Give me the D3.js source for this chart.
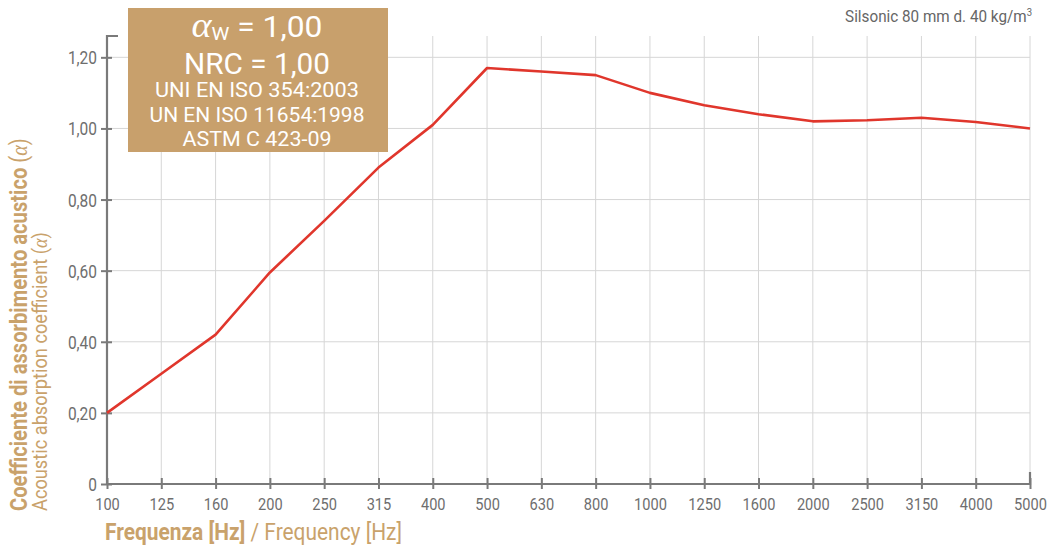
<!DOCTYPE html>
<html><head><meta charset="utf-8">
<script src="https://cdn.jsdelivr.net/npm/d3@7"></script>
<style>
body{margin:0;background:#fff;}
svg{display:block;}
</style></head><body>
<svg id="c" width="1058" height="547"></svg>
<script>
const frequencies = ["100","125","160","200","250","315","400","500","630","800","1000","1250","1600","2000","2500","3150","4000","5000"];
const alphaValues = [0.20,0.31,0.42,0.595,0.74,0.89,1.01,1.17,1.16,1.15,1.10,1.065,1.04,1.02,1.023,1.03,1.018,1.00];
const yTicks = [0,0.2,0.4,0.6,0.8,1.0,1.2];
const yTickLabels = ["0","0,20","0,40","0,60","0,80","1,00","1,20"];
const boxLines = ["NRC = 1,00","UNI EN ISO 354:2003","UN EN ISO 11654:1998","ASTM C 423-09"];

const svg = d3.select("#c");
const font = "Roboto, 'Liberation Sans', sans-serif";
const alphaFont = "'Liberation Serif', 'DejaVu Serif', serif";
const tan = "#c9a26b";
const axisCol = "#7a7a7a";
const labelCol = "#6e6e6e";

const x = d3.scalePoint().domain(frequencies).range([107,1030]);
const y = d3.scaleLinear().domain([0,1.26]).range([484,36]);

function cText(parent, px, py, size, anchor, fill, rot) {
  const t = parent.append("text").attr("x",0).attr("y",0)
    .attr("font-family",font).attr("font-size",size).attr("fill",fill).attr("text-anchor",anchor);
  t.node().__pos = [px,py,rot||0];
  return t;
}
function fit(t, target, s) {
  const [px,py,rot] = t.node().__pos;
  let sc = s;
  if (target) { const w = t.node().getComputedTextLength(); sc = target / w; }
  t.attr("transform",`translate(${px},${py}) rotate(${rot}) scale(${sc},1)`);
  return sc;
}

// grid
svg.append("g").selectAll("line").data(frequencies.slice(1)).join("line")
  .attr("x1",d=>x(d)).attr("x2",d=>x(d)).attr("y1",y(1.26)).attr("y2",y(0))
  .attr("stroke","#d6d6d6").attr("stroke-width",1);
svg.append("g").selectAll("line").data(yTicks.slice(1)).join("line")
  .attr("x1",x("100")).attr("x2",x("5000")).attr("y1",d=>y(d)).attr("y2",d=>y(d))
  .attr("stroke","#d6d6d6").attr("stroke-width",1);

// y axis
const ya = d3.axisLeft(y).tickValues(yTicks).tickFormat((d,i)=>yTickLabels[i]).tickSize(6);
const yg = svg.append("g").attr("transform",`translate(${x("100")},0)`).call(ya);
yg.select(".domain").remove();
yg.selectAll(".tick line").attr("x1",-6).attr("x2",5).attr("stroke",axisCol).attr("stroke-width",2);
yg.selectAll(".tick text")
  .attr("font-family",font).attr("font-size",18).attr("fill",labelCol)
  .attr("x",0).attr("dy",null).attr("y",6.5)
  .attr("transform","translate(-10,0) scale(0.86,1)");
svg.append("path").attr("d",`M${x("100")+11},${y(1.26)}H${x("100")}V${y(0)}`)
  .attr("fill","none").attr("stroke",axisCol).attr("stroke-width",2.2);

// x axis
const xa = d3.axisBottom(x).tickSize(6);
const xg = svg.append("g").attr("transform",`translate(0,${y(0)})`).call(xa);
xg.select(".domain").remove();
xg.selectAll(".tick line").attr("y1",-6).attr("y2",5).attr("stroke",axisCol).attr("stroke-width",2);
xg.selectAll(".tick text")
  .attr("font-family",font).attr("font-size",17).attr("fill",labelCol)
  .attr("dy",null).attr("y",0)
  .attr("transform","translate(0,26) scale(0.86,1)");
svg.append("path").attr("d",`M${x("100")},${y(0)}H${x("5000")}V${y(0)-12}`)
  .attr("fill","none").attr("stroke",axisCol).attr("stroke-width",2.2);

// data line
const line = d3.line().x((d,i)=>x(frequencies[i])).y(d=>y(d));
svg.append("path").datum(alphaValues).attr("d",line)
  .attr("fill","none").attr("stroke","#e0362c").attr("stroke-width",2.6).attr("stroke-linejoin","round");

// info box
svg.append("rect").attr("x",128).attr("y",8).attr("width",260).attr("height",144).attr("fill","#c8a06c");
const t1 = cText(svg, 257, 37, 30, "middle", "#fff");
t1.append("tspan").attr("font-family",alphaFont).attr("font-style","italic").attr("font-size",36).text("α");
t1.append("tspan").attr("font-size",19).attr("dy",3).text("W");
t1.append("tspan").attr("dy",-3).text(" = 1,00");
fit(t1, 131);
const t2 = cText(svg, 257, 74, 30, "middle", "#fff"); t2.text(boxLines[0]); fit(t2, 146);
const boxTargets = [204, 215, 149];
const boxY = [97, 121.5, 146];
boxLines.slice(1).forEach((s,i)=>{
  const t = cText(svg, 257, boxY[i], 21, "middle", "#fff"); t.text(s); fit(t, boxTargets[i]);
});

// top-right label
const tr = cText(svg, 1032, 22, 16, "end", "#666");
tr.append("tspan").text("Silsonic 80 mm d. 40 kg/m");
tr.append("tspan").attr("font-size",10).attr("dy",-6).text("3");
fit(tr, 187);

// x title
const xt = cText(svg, 105, 540, 24, "start", tan);
xt.append("tspan").attr("font-weight","bold").text("Frequenza [Hz]");
xt.append("tspan").text(" / Frequency [Hz]");
fit(xt, 297);

// y title
const yt1 = cText(svg, 27, 511, 23, "start", tan, -90);
yt1.append("tspan").attr("font-weight","bold").text("Coefficiente di assorbimento acustico");
yt1.append("tspan").text(" (");
yt1.append("tspan").attr("font-family",alphaFont).attr("font-style","italic").text("α");
yt1.append("tspan").text(")");
fit(yt1, 373);
const yt2 = cText(svg, 47, 511, 21, "start", tan, -90);
yt2.append("tspan").text("Acoustic absorption coefficient (");
yt2.append("tspan").attr("font-family",alphaFont).attr("font-style","italic").text("α");
yt2.append("tspan").text(")");
fit(yt2, 279);
</script></body></html>
